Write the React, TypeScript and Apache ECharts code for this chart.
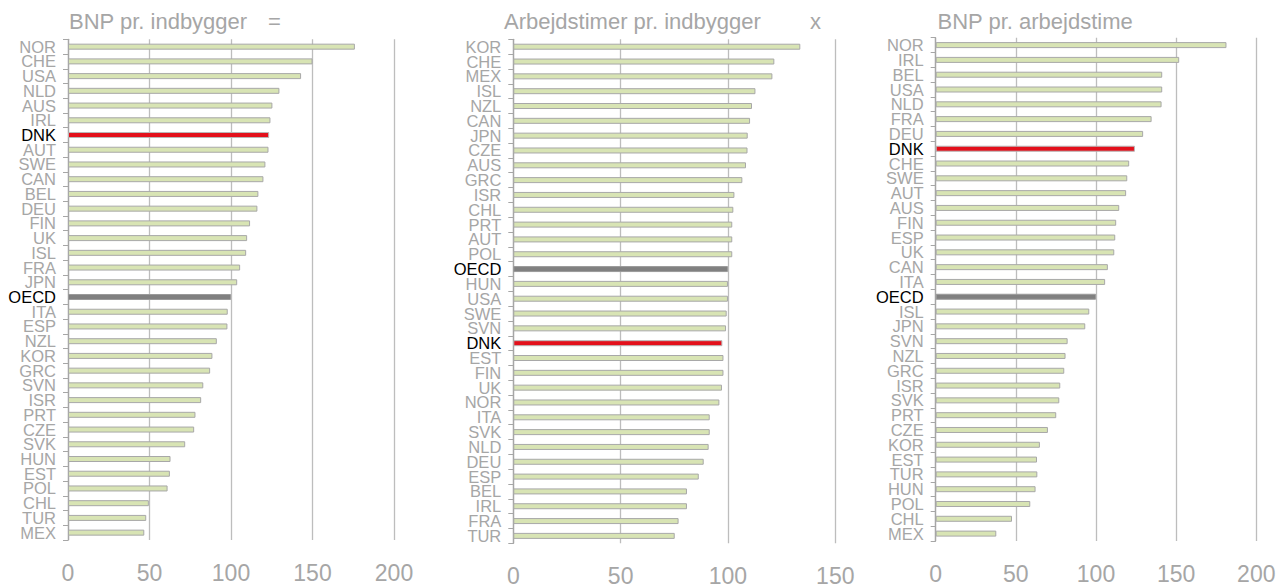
import React, { useEffect, useRef } from "react";
import * as echarts from "echarts";

const cats1 = ["NOR","CHE","USA","NLD","AUS","IRL","DNK","AUT","SWE","CAN","BEL","DEU","FIN","UK","ISL","FRA","JPN","OECD","ITA","ESP","NZL","KOR","GRC","SVN","ISR","PRT","CZE","SVK","HUN","EST","POL","CHL","TUR","MEX"];
const vals1 = [176,150,143,129.7,125.4,124.2,123.4,123,121.1,119.9,116.8,116.2,111.7,109.9,109.3,105.6,103.8,100,98,97.8,91.3,88.6,87.2,83,81.7,78.2,77.4,71.9,62.9,62.5,61.1,49.6,48,46.8];

const cats2 = ["KOR","CHE","MEX","ISL","NZL","CAN","JPN","CZE","AUS","GRC","ISR","CHL","PRT","AUT","POL","OECD","HUN","USA","SWE","SVN","DNK","EST","FIN","UK","NOR","ITA","SVK","NLD","DEU","ESP","BEL","IRL","FRA","TUR"];
const vals2 = [133.7,121.6,120.7,112.8,111.2,110.3,109.2,109.1,108.4,106.7,103,102.5,102,102,102,100,100,100,99.4,99.1,97.4,97.9,97.9,97.2,96,91.5,91.5,91,88.7,86.4,80.9,80.9,77,75.2];

const cats3 = ["NOR","IRL","BEL","USA","NLD","FRA","DEU","DNK","CHE","SWE","AUT","AUS","FIN","ESP","UK","CAN","ITA","OECD","ISL","JPN","SVN","NZL","GRC","ISR","SVK","PRT","CZE","KOR","EST","TUR","HUN","POL","CHL","MEX"];
const vals3 = [181.4,151.9,141.3,141.3,140.9,134.7,129.4,124.3,120.7,119.5,118.8,114.5,112.6,112,111.4,107.4,105.7,100,95.8,93.3,82.3,81,80.2,77.7,77.1,75.2,70,65,63.2,63.4,62.3,59,47.6,37.8];

const titles = ["BNP pr. indbygger", "Arbejdstimer pr. indbygger", "BNP pr. arbejdstime"];
const titleMarks = ["=", "x", ""];
const xMax = [200, 150, 200];

const GRAY = "#a6a6a6";
const FONT = "'Liberation Sans', Arial, sans-serif";

function barData(cats: string[], vals: number[]) {
  return vals.map((v, i) => {
    const c = cats[i];
    if (c === "DNK") return { value: v, itemStyle: { color: "#e3101b", borderColor: "#b8b8b8", borderWidth: 1 } };
    if (c === "OECD") return { value: v, itemStyle: { color: "#808080", borderColor: "#9a9a9a", borderWidth: 1 } };
    return { value: v, itemStyle: { color: "#d8e4b4", borderColor: "#a8a8a8", borderWidth: 1 } };
  });
}

export default function App() {
  const ref = useRef<HTMLDivElement>(null);
  useEffect(() => {
    document.body.style.margin = "0";
    if (!ref.current) return;
    const chart = echarts.init(ref.current, null, { renderer: "svg" });
    const grids = [
      { left: 68, top: 39.3, width: 326, height: 500.7 },
      { left: 513.3, top: 39.3, width: 322, height: 504 },
      { left: 935.7, top: 37.7, width: 320.6, height: 503.3 },
    ];
    const allCats = [cats1, cats2, cats3];
    const allVals = [vals1, vals2, vals3];
    const titleLeft = [69, 504, 937.5];
    const markLeft = [268, 810, 0];
    const title: any[] = [];
    const ts = { color: GRAY, fontSize: 22, fontWeight: "normal", fontFamily: FONT };
    titles.forEach((t, i) => {
      title.push({ text: t, left: titleLeft[i], top: 10, padding: 0, textStyle: ts });
      if (titleMarks[i]) title.push({ text: titleMarks[i], left: markLeft[i], top: 10, padding: 0, textStyle: ts });
    });
    chart.setOption({
      animation: false,
      title,
      grid: grids,
      xAxis: grids.map((_, i) => ({
        type: "value",
        gridIndex: i,
        min: 0,
        max: xMax[i],
        interval: 50,
        axisLine: { show: false },
        axisTick: { show: false },
        splitLine: { show: true, lineStyle: { color: "#bdbdbd", width: 1.3 } },
        axisLabel: { color: GRAY, fontSize: 23, fontFamily: FONT, margin: 21 },
      })),
      yAxis: grids.map((_, i) => ({
        type: "category",
        gridIndex: i,
        inverse: true,
        data: allCats[i],
        axisLine: { show: true, lineStyle: { color: "#a6a6a6", width: 1.3 } },
        axisTick: { show: true, length: 5, lineStyle: { color: "#a6a6a6" } },
        axisLabel: {
          interval: 0,
          margin: 12,
          fontSize: 16.5,
          fontFamily: FONT,
          lineHeight: 14,
          color: (v: string) => (v === "DNK" || v === "OECD" ? "#000000" : GRAY),
        },
      })),
      series: grids.map((_, i) => ({
        type: "bar",
        xAxisIndex: i,
        yAxisIndex: i,
        barWidth: 6,
        data: barData(allCats[i], allVals[i]),
      })),
    });
    return () => chart.dispose();
  }, []);
  return <div ref={ref} style={{ width: 1287, height: 588 }} />;
}
